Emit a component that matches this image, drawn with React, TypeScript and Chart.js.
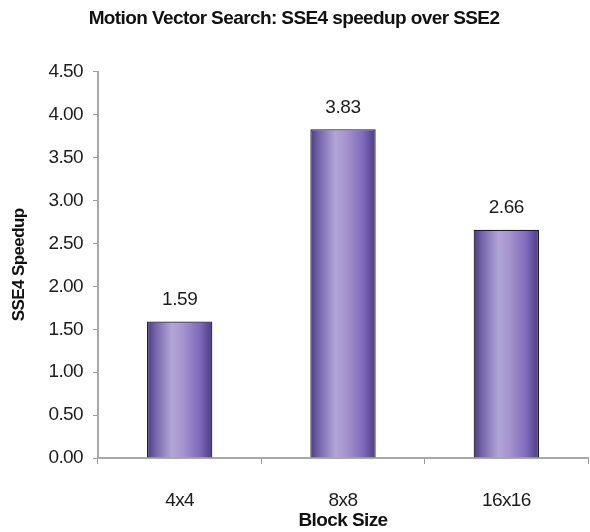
import React, { useEffect, useRef } from "react";
import { Chart, registerables } from "chart.js";

Chart.register(...registerables);

const categories = ["4x4", "8x8", "16x16"];
const speedups = [1.59, 3.83, 2.66];
const yTicks = [0, 0.5, 1, 1.5, 2, 2.5, 3, 3.5, 4, 4.5];

const FONT = "'Liberation Sans', Arial, sans-serif";
const BAR_PCT = 0.8;
const CAT_PCT = 0.5;

// Horizontal shading across a bar, giving it a rounded look.
function barShade(c: any) {
  const chart = c.chart;
  const xs = chart.scales && chart.scales.x;
  if (!xs || !chart.chartArea) return "#9a8ac6";
  const center = xs.getPixelForValue(c.dataIndex);
  const half = (xs.width / categories.length) * CAT_PCT * BAR_PCT / 2;
  const g = chart.ctx.createLinearGradient(center - half, 0, center + half, 0);
  g.addColorStop(0, "#4a3a80");
  g.addColorStop(0.12, "#7262a8");
  g.addColorStop(0.38, "#b2a5d8");
  g.addColorStop(0.55, "#a594ce");
  g.addColorStop(0.8, "#806cbc");
  g.addColorStop(1, "#4b3a86");
  return g;
}

// Value labels above each bar.
const valueLabels = {
  id: "valueLabels",
  afterDatasetsDraw(chart: any) {
    const ctx = chart.ctx;
    const values = chart.data.datasets[0].data as number[];
    ctx.save();
    ctx.font = `19px ${FONT}`;
    (ctx as any).letterSpacing = "-0.4px";
    ctx.fillStyle = "#1c1c1c";
    ctx.textAlign = "center";
    ctx.textBaseline = "middle";
    chart.getDatasetMeta(0).data.forEach((bar: any, i: number) => {
      ctx.fillText(values[i].toFixed(2), bar.x, bar.y - 22);
    });
    ctx.restore();
  },
};

// Tighter letter spacing for the chart's text.
const tightText = {
  id: "tightText",
  beforeDraw(chart: any) {
    (chart.ctx as any).letterSpacing = "-0.6px";
  },
};

export default function App() {
  const ref = useRef<HTMLCanvasElement | null>(null);

  useEffect(() => {
    document.body.style.margin = "0";
    const canvas = ref.current;
    if (!canvas) return;
    const chart = new Chart(canvas, {
      type: "bar",
      data: {
        labels: categories,
        datasets: [
          {
            data: speedups,
            backgroundColor: barShade,
            borderColor: "#1e1a2a",
            borderWidth: 1.2,
            barPercentage: BAR_PCT,
            categoryPercentage: CAT_PCT,
          },
        ],
      },
      options: {
        animation: false,
        responsive: false,
        devicePixelRatio: 1,
        layout: { padding: { left: 0, right: 2, top: 0, bottom: 0 } },
        plugins: {
          legend: { display: false },
          tooltip: { enabled: false },
          title: {
            display: true,
            text: "Motion Vector Search: SSE4 speedup over SSE2",
            color: "#111",
            font: { family: FONT, size: 19, weight: "bold" },
            padding: { top: 7, bottom: 42 },
          },
        },
        scales: {
          x: {
            afterFit(scale: any) {
              scale.height = 74;
            },
            grid: {
              display: true,
              offset: true,
              drawOnChartArea: false,
              drawTicks: true,
              tickLength: 6,
              color: "#9a9a9a",
            },
            border: { display: true, color: "#a8a8a8", width: 2 },
            ticks: {
              color: "#1c1c1c",
              font: { family: FONT, size: 19 },
              padding: 25,
            },
            title: {
              display: true,
              text: "Block Size",
              color: "#111",
              font: { family: FONT, size: 19, weight: "bold" },
              padding: { top: -2, bottom: 0 },
            },
          },
          y: {
            min: 0,
            max: 4.5,
            afterFit(scale: any) {
              scale.width = 98;
            },
            afterBuildTicks(scale: any) {
              scale.ticks = yTicks.map((v) => ({ value: v }));
            },
            grid: {
              display: true,
              drawOnChartArea: false,
              drawTicks: true,
              tickLength: 5,
              color: "#9a9a9a",
            },
            border: { display: true, color: "#a8a8a8", width: 2 },
            ticks: {
              color: "#1c1c1c",
              font: { family: FONT, size: 19 },
              padding: 10,
              callback: (v: any) => Number(v).toFixed(2),
            },
            title: {
              display: true,
              text: "SSE4 Speedup",
              color: "#111",
              font: { family: FONT, size: 17, weight: "bold" },
              padding: 9,
            },
          },
        },
      },
      plugins: [tightText, valueLabels],
    });
    return () => chart.destroy();
  }, []);

  return (
    <div style={{ width: 590, height: 532, background: "#fff" }}>
      <canvas ref={ref} width={590} height={532} />
    </div>
  );
}
